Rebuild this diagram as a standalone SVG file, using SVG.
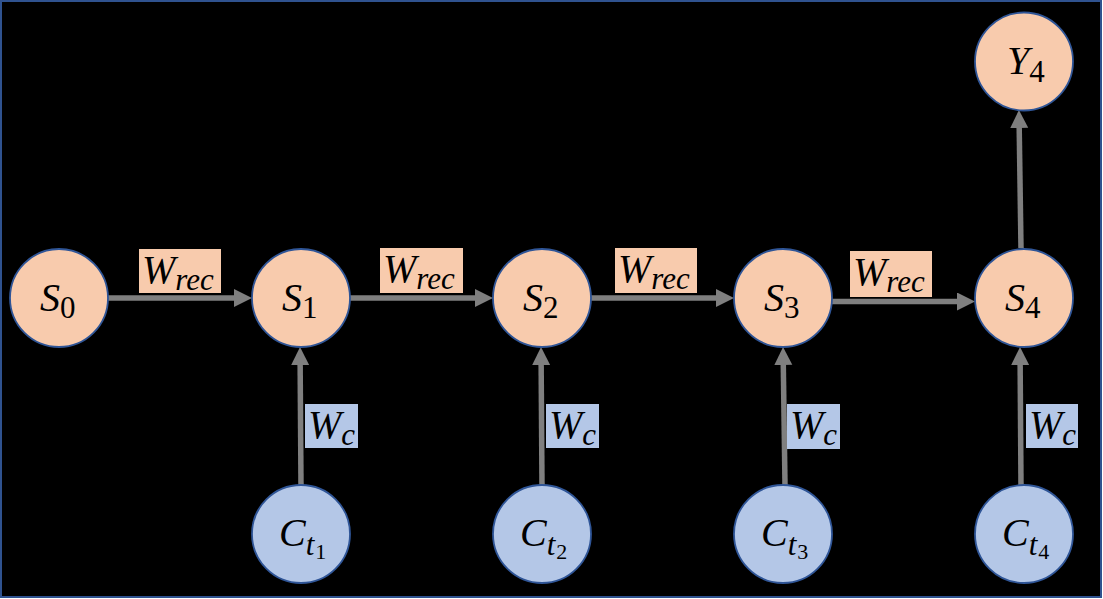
<svg xmlns="http://www.w3.org/2000/svg" width="1103" height="599" viewBox="0 0 1103 599">
  <defs>
    <marker id="ah" markerUnits="userSpaceOnUse" markerWidth="19" markerHeight="19" refX="7" refY="9" orient="auto">
      <path d="M0,0 L18,9 L0,18 z" fill="#7F7F7F"/>
    </marker>
    <style>
      .bg { fill: #000000; stroke: #2F528F; stroke-width: 2; }
      .so { fill: #F8CBAD; stroke: #2F5597; stroke-width: 1.8; }
      .sb { fill: #B4C7E7; stroke: #2F5597; stroke-width: 1.8; }
      .lo { fill: #F8CBAD; }
      .lb { fill: #B4C7E7; }
      .t { font-family: "Liberation Serif", "Times New Roman", serif; font-style: italic; font-size: 40px; fill: #000000; }
      .sub { font-size: 31px; }
      .num { font-style: normal; }
      .ss { font-size: 22px; font-style: normal; }
      .arr { stroke: #7F7F7F; stroke-width: 5.5; fill: none; marker-end: url(#ah); }
    </style>
  </defs>
  <rect class="bg" x="1" y="1" width="1100" height="596"/>

  <g id="connectors">
    <line class="arr" x1="108" y1="298" x2="241" y2="298"/>
    <line class="arr" x1="350" y1="298" x2="482" y2="298"/>
    <line class="arr" x1="591" y1="298" x2="723" y2="298"/>
    <line class="arr" x1="832" y1="301.5" x2="964" y2="301.5"/>
    <line class="arr" x1="301" y1="485" x2="300.1" y2="358"/>
    <line class="arr" x1="542" y1="485" x2="541.1" y2="358"/>
    <line class="arr" x1="785" y1="485" x2="783.2" y2="358"/>
    <line class="arr" x1="1021" y1="485" x2="1020.1" y2="358"/>
    <line class="arr" x1="1021" y1="248" x2="1019.1" y2="121"/>
  </g>

  <g id="labels">
    <g id="wrec1">
      <rect class="lo" x="139" y="249" width="82" height="44"/>
      <text class="t" x="142" y="283">W<tspan class="sub" dy="7">rec</tspan></text>
    </g>
    <g id="wrec2">
      <rect class="lo" x="380" y="248" width="83" height="45"/>
      <text class="t" x="383" y="282">W<tspan class="sub" dy="7">rec</tspan></text>
    </g>
    <g id="wrec3">
      <rect class="lo" x="615" y="248" width="82" height="45"/>
      <text class="t" x="618" y="282">W<tspan class="sub" dy="7">rec</tspan></text>
    </g>
    <g id="wrec4">
      <rect class="lo" x="850" y="251" width="82" height="46"/>
      <text class="t" x="853" y="285">W<tspan class="sub" dy="7">rec</tspan></text>
    </g>
    <g id="wc1">
      <rect class="lb" x="305" y="404" width="53" height="44"/>
      <text class="t" x="308" y="438">W<tspan class="sub" dy="7">c</tspan></text>
    </g>
    <g id="wc2">
      <rect class="lb" x="546" y="404" width="53" height="44"/>
      <text class="t" x="549" y="438">W<tspan class="sub" dy="7">c</tspan></text>
    </g>
    <g id="wc3">
      <rect class="lb" x="787" y="404" width="53" height="45"/>
      <text class="t" x="790" y="438">W<tspan class="sub" dy="7">c</tspan></text>
    </g>
    <g id="wc4">
      <rect class="lb" x="1026" y="404" width="52" height="44"/>
      <text class="t" x="1029" y="438">W<tspan class="sub" dy="7">c</tspan></text>
    </g>
  </g>

  <g id="S0">
    <circle class="so" cx="59" cy="298" r="49"/>
    <text class="t" x="40" y="311">S<tspan class="sub num" dy="7">0</tspan></text>
  </g>
  <g id="S1">
    <circle class="so" cx="301" cy="298" r="49"/>
    <text class="t" x="282" y="311">S<tspan class="sub num" dy="7">1</tspan></text>
  </g>
  <g id="S2">
    <circle class="so" cx="542" cy="298" r="49"/>
    <text class="t" x="523" y="311">S<tspan class="sub num" dy="7">2</tspan></text>
  </g>
  <g id="S3">
    <circle class="so" cx="783" cy="298" r="49"/>
    <text class="t" x="764" y="311">S<tspan class="sub num" dy="7">3</tspan></text>
  </g>
  <g id="S4">
    <circle class="so" cx="1024" cy="298" r="49"/>
    <text class="t" x="1005" y="311">S<tspan class="sub num" dy="7">4</tspan></text>
  </g>
  <g id="Y4">
    <circle class="so" cx="1024" cy="61.5" r="49"/>
    <text class="t" x="1007" y="74">Y<tspan class="sub num" dy="8">4</tspan></text>
  </g>
  <g id="Ct1">
    <circle class="sb" cx="301" cy="534" r="49"/>
    <text class="t" x="279" y="546">C<tspan class="sub" dy="9">t</tspan><tspan class="ss" dx="1" dy="4">1</tspan></text>
  </g>
  <g id="Ct2">
    <circle class="sb" cx="542" cy="534" r="49"/>
    <text class="t" x="520" y="546">C<tspan class="sub" dy="9">t</tspan><tspan class="ss" dx="1" dy="4">2</tspan></text>
  </g>
  <g id="Ct3">
    <circle class="sb" cx="783" cy="534" r="49"/>
    <text class="t" x="761" y="546">C<tspan class="sub" dy="9">t</tspan><tspan class="ss" dx="1" dy="4">3</tspan></text>
  </g>
  <g id="Ct4">
    <circle class="sb" cx="1024" cy="534" r="49"/>
    <text class="t" x="1002" y="546">C<tspan class="sub" dy="9">t</tspan><tspan class="ss" dx="1" dy="4">4</tspan></text>
  </g>
</svg>
